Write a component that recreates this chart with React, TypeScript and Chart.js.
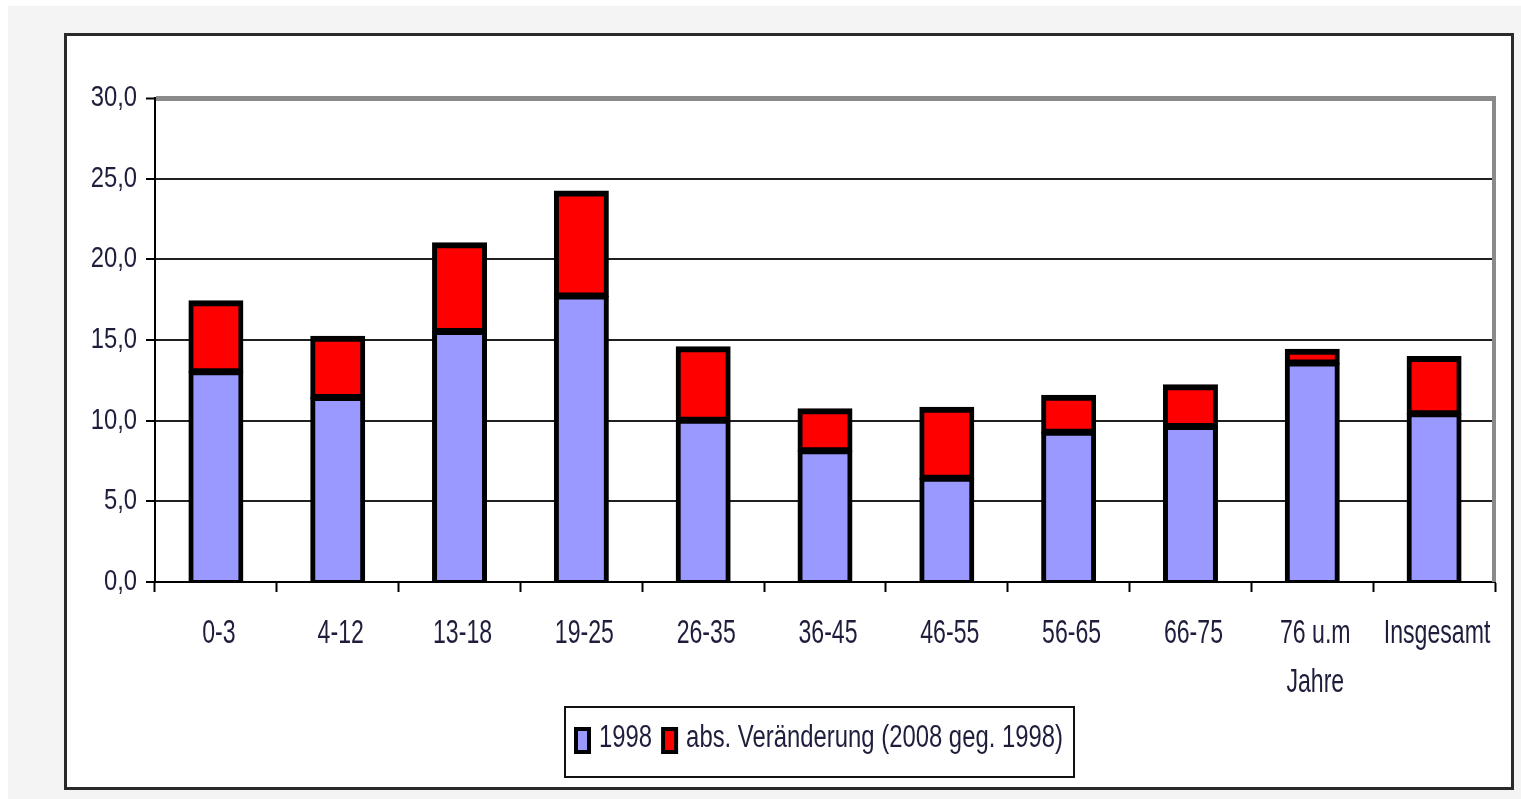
import React, { useEffect, useRef } from "react";
import { Chart, registerables } from "chart.js";

Chart.register(...registerables);

const categories: (string | string[])[] = [
  "0-3", "4-12", "13-18", "19-25", "26-35", "36-45", "46-55", "56-65", "66-75", ["76 u.m", "Jahre"], "Insgesamt",
];
const values1998 = [13.0, 11.4, 15.5, 17.7, 10.0, 8.1, 6.4, 9.25, 9.6, 13.55, 10.4];
const valuesChange = [4.4, 3.8, 5.5, 6.5, 4.55, 2.6, 4.4, 2.3, 2.6, 0.85, 3.55];
const seriesLabels = ["1998", "abs. Veränderung (2008 geg. 1998)"];
const yTicks = [0, 5, 10, 15, 20, 25, 30];

const FONT = "'Liberation Sans', Arial, sans-serif";
const TEXT = "#1e1e3c";

const fmt = (v: number) => v.toFixed(1).replace(".", ",");

function drawText(ctx: CanvasRenderingContext2D, s: string, x: number, y: number, align: CanvasTextAlign, size: number, sx: number) {
  ctx.save();
  ctx.translate(x, y);
  ctx.scale(sx, 1);
  ctx.font = `${size}px ${FONT}`;
  ctx.textAlign = align;
  ctx.textBaseline = "alphabetic";
  ctx.fillStyle = TEXT;
  ctx.fillText(s, 0, 0);
  ctx.restore();
}

function textWidth(ctx: CanvasRenderingContext2D, s: string, size: number, sx: number) {
  ctx.save();
  ctx.font = `${size}px ${FONT}`;
  const w = ctx.measureText(s).width * sx;
  ctx.restore();
  return w;
}

const frame = {
  id: "frame",
  afterDatasetsDraw(chart: any) {
    const { ctx, chartArea } = chart;
    ctx.save();
    ctx.strokeStyle = "#8a8a8a";
    ctx.lineWidth = 4;
    ctx.beginPath();
    ctx.moveTo(chartArea.right - 1, chartArea.top - 2);
    ctx.lineTo(chartArea.right - 1, chartArea.bottom);
    ctx.stroke();
    ctx.restore();
  },
};

const axisLabels = {
  id: "axisLabels",
  afterDraw(chart: any) {
    const { ctx } = chart;
    const xs = chart.scales.x;
    const ys = chart.scales.y;
    ys.ticks.forEach((t: any) => {
      const py = ys.getPixelForValue(t.value);
      drawText(ctx, fmt(t.value), ys.right - 18, py + 8, "right", 29, 0.82);
    });
    (chart.data.labels as any[]).forEach((lab: any, i: number) => {
      const px = xs.getPixelForValue(i) + 3;
      const lines = Array.isArray(lab) ? lab : [lab];
      lines.forEach((ln: string, j: number) => {
        drawText(ctx, ln, px, xs.top + 61 + j * 49, "center", 33, 0.7);
      });
    });
  },
};

const boxLegend = {
  id: "boxLegend",
  afterDraw(chart: any) {
    const { ctx, chartArea } = chart;
    const ds = chart.data.datasets;
    const size = 31, sx = 0.77;
    const sw = 17, sh = 27, gapText = 8, gapItem = 9, padL = 9, padR = 11;
    const widths = ds.map((d: any) => textWidth(ctx, d.label, size, sx));
    let total = padL + padR;
    widths.forEach((w: number, i: number) => {
      total += sw + gapText + w + (i > 0 ? gapItem : 0);
    });
    const cx = (chartArea.left + chartArea.right) / 2 - 5;
    const boxL = Math.round(cx - total / 2);
    const boxT = chartArea.bottom + 125;
    const boxH = 70;
    ctx.save();
    ctx.strokeStyle = "#111";
    ctx.lineWidth = 2;
    ctx.strokeRect(boxL, boxT, total, boxH);
    const swT = boxT + 20;
    let x = boxL + padL;
    ds.forEach((d: any, i: number) => {
      if (i > 0) x += gapItem;
      ctx.fillStyle = "#000";
      ctx.fillRect(x, swT, sw, sh);
      ctx.fillStyle = d.backgroundColor;
      ctx.fillRect(x + 4, swT + 4, sw - 8, sh - 8);
      x += sw + gapText;
      drawText(ctx, d.label, x, boxT + 40, "left", size, sx);
      x += widths[i];
    });
    ctx.restore();
  },
};

export default function App() {
  const ref = useRef<HTMLCanvasElement | null>(null);

  useEffect(() => {
    if (!ref.current) return;
    const chart = new Chart(ref.current, {
      type: "bar",
      data: {
        labels: categories as any,
        datasets: [
          {
            label: seriesLabels[0],
            data: values1998,
            backgroundColor: "#9999ff",
            borderColor: "#000",
            borderWidth: { top: 4, left: 5, right: 5, bottom: 2 },
            borderSkipped: false,
            inflateAmount: 1,
            barPercentage: 0.435,
            categoryPercentage: 1,
          },
          {
            label: seriesLabels[1],
            data: valuesChange,
            backgroundColor: "#ff0000",
            borderColor: "#000",
            borderWidth: { top: 6, left: 5, right: 5, bottom: 5 },
            borderSkipped: false,
            inflateAmount: 1,
            barPercentage: 0.435,
            categoryPercentage: 1,
          },
        ],
      },
      options: {
        responsive: false,
        animation: false,
        devicePixelRatio: 1,
        layout: { padding: { left: 0, right: 16, top: 62, bottom: 85 } },
        plugins: {
          legend: { display: false },
          tooltip: { enabled: false },
        },
        scales: {
          x: {
            stacked: true,
            offset: true,
            grid: {
              display: true,
              drawOnChartArea: false,
              drawTicks: true,
              tickLength: 10,
              tickColor: "#000",
              tickWidth: 2,
              offset: true,
            },
            border: { display: true, color: "#000", width: 2 },
            ticks: { display: false, autoSkip: false, maxRotation: 0 },
            afterFit(scale: any) {
              scale.height = 120;
            },
          },
          y: {
            stacked: true,
            min: 0,
            max: 30,
            afterBuildTicks(scale: any) {
              scale.ticks = yTicks.map((v) => ({ value: v }));
            },
            grid: {
              color: (c: any) => (c.tick && c.tick.value === 30 ? "#8a8a8a" : "#202020"),
              lineWidth: (c: any) => (c.tick && c.tick.value === 30 ? 5 : 2),
              drawTicks: true,
              tickLength: 9,
              tickColor: "#000",
              tickWidth: 2,
            },
            border: { display: true, color: "#000", width: 2 },
            ticks: { display: false },
            afterFit(scale: any) {
              scale.width = 88;
            },
          },
        },
      },
      plugins: [frame, axisLabels, boxLegend],
    });
    return () => chart.destroy();
  }, []);

  return (
    <div
      style={{
        position: "fixed",
        left: 8,
        top: 6,
        right: 0,
        bottom: 0,
        background: "#f4f4f4",
      }}
    >
      <div
        style={{
          position: "absolute",
          left: 56,
          top: 27,
          width: 1444,
          height: 751,
          background: "#fff",
          border: "3px solid #2a2a2a",
        }}
      >
        <canvas ref={ref} width={1444} height={751} style={{ display: "block" }} />
      </div>
    </div>
  );
}
